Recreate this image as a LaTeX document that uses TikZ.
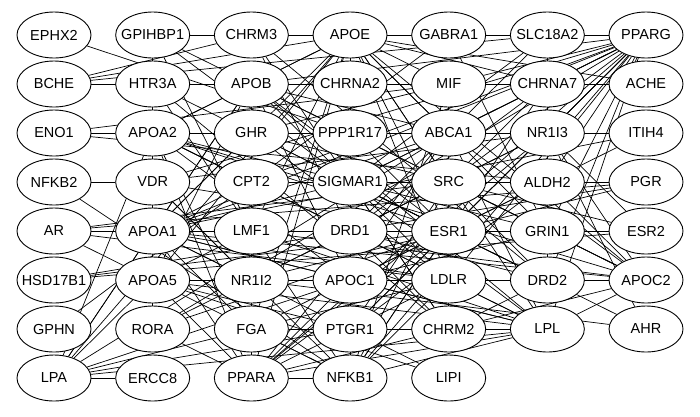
\documentclass[tikz,border=0pt]{standalone}
\usepackage{fontspec}
\setmainfont{Liberation Sans}
\usetikzlibrary{shapes.geometric,backgrounds}
\newcommand\gl[1]{\makebox[0pt]{#1}}
\begin{document}
\begin{tikzpicture}[x=1pt,y=-1pt,
  gn/.style={draw=black,fill=white,ellipse,minimum width=74pt,minimum height=46pt,
    inner sep=0pt,line width=0.9pt,font=\fontsize{14.5}{17}\selectfont},
  ed/.style={draw=black,line width=0.7pt}]
\useasboundingbox (0,0) rectangle (700,416);
\foreach \n/\c/\r in {
  EPHX2/0/0, GPIHBP1/1/0, CHRM3/2/0, APOE/3/0, GABRA1/4/0, SLC18A2/5/0, PPARG/6/0,
  BCHE/0/1, HTR3A/1/1, APOB/2/1, CHRNA2/3/1, MIF/4/1, CHRNA7/5/1, ACHE/6/1,
  ENO1/0/2, APOA2/1/2, GHR/2/2, PPP1R17/3/2, ABCA1/4/2, NR1I3/5/2, ITIH4/6/2,
  NFKB2/0/3, VDR/1/3, CPT2/2/3, SIGMAR1/3/3, SRC/4/3, ALDH2/5/3, PGR/6/3,
  AR/0/4, APOA1/1/4, LMF1/2/4, DRD1/3/4, ESR1/4/4, GRIN1/5/4, ESR2/6/4,
  HSD17B1/0/5, APOA5/1/5, NR1I2/2/5, APOC1/3/5, LDLR/4/5, DRD2/5/5, APOC2/6/5,
  GPHN/0/6, RORA/1/6, FGA/2/6, PTGR1/3/6, CHRM2/4/6, LPL/5/6, AHR/6/6,
  LPA/0/7, ERCC8/1/7, PPARA/2/7, NFKB1/3/7, LIPI/4/7}
  \node[gn] (\n) at ({54+98.67*\c},{35+49*\r}) {\gl{\n}};
\begin{scope}[on background layer]
\fill[white] (0,0) rectangle (700,416);
\foreach \a/\b in {
  EPHX2/PPP1R17,
  GPIHBP1/APOE, GPIHBP1/CHRM3, GPIHBP1/LPL, GPIHBP1/LMF1, GPIHBP1/APOC2, GPIHBP1/APOA5,
  BCHE/ACHE, BCHE/CHRM3, BCHE/APOE, BCHE/SLC18A2,
  ENO1/APOA2, ENO1/MIF, ENO1/ALDH2,
  NFKB2/VDR, NFKB2/NFKB1,
  AR/SRC, AR/ESR1, AR/LDLR, AR/NFKB1, AR/PGR,
  HSD17B1/ESR1, HSD17B1/PGR, HSD17B1/ESR2,
  GPHN/GABRA1,
  LPA/APOA2, LPA/APOA5, LPA/APOA1, LPA/APOB, LPA/APOE, LPA/ABCA1, LPA/APOC1, LPA/LPL,
  LPA/PTGR1, LPA/LDLR, LPA/ERCC8,
  RORA/APOA5, RORA/ESR1, RORA/PPARG, RORA/NR1I3,
  LIPI/APOA1, LIPI/APOA5,
  AHR/ESR1, AHR/NR1I2, AHR/NR1I3,
  ESR2/ESR1, ESR2/SRC, ESR2/NR1I3,
  PGR/SRC, PGR/ESR1,
  ITIH4/NR1I3, ITIH4/APOA2, ITIH4/FGA, ITIH4/APOA1,
  ACHE/CHRNA7, ACHE/APOE,
  SLC18A2/GABRA1, SLC18A2/DRD1, SLC18A2/DRD2, SLC18A2/SIGMAR1, SLC18A2/PPARG,
  GABRA1/GRIN1,
  CHRM3/APOE, CHRM3/CHRM2, CHRM3/DRD1, CHRM3/DRD2,
  HTR3A/CHRNA7, HTR3A/DRD2, HTR3A/NFKB1, HTR3A/CHRM2,
  APOE/APOB, APOE/APOA1, APOE/APOA2, APOE/APOA5, APOE/APOC1, APOE/APOC2, APOE/LPL,
  APOE/LDLR, APOE/ABCA1, APOE/PPARG, APOE/ESR1, APOE/SIGMAR1, APOE/CHRNA7, APOE/GRIN1,
  APOE/FGA, APOE/PPARA, APOE/LMF1, APOE/SRC, APOE/MIF,
  APOB/APOA1, APOB/APOA2, APOB/APOA5, APOB/APOC1, APOB/APOC2, APOB/LPL, APOB/LDLR,
  APOB/ABCA1, APOB/PPARA, APOB/PPARG, APOB/FGA, APOB/LMF1, APOB/CPT2, APOB/NR1I2,
  APOB/ESR1, APOB/MIF,
  APOA1/APOA2, APOA1/APOA5, APOA1/APOC1, APOA1/APOC2, APOA1/LPL, APOA1/LDLR, APOA1/ABCA1,
  APOA1/PPARA, APOA1/PPARG, APOA1/FGA, APOA1/LMF1, APOA1/ESR1, APOA1/CPT2, APOA1/GHR,
  APOA1/NR1I2, APOA1/SIGMAR1,
  APOA2/APOA5, APOA2/APOC1, APOA2/APOC2, APOA2/LPL, APOA2/ABCA1, APOA2/LDLR, APOA2/PPARA,
  APOA2/FGA, APOA2/CPT2, APOA2/SIGMAR1, APOA2/ESR1,
  APOA5/APOC1, APOA5/APOC2, APOA5/LPL, APOA5/LMF1, APOA5/LDLR, APOA5/PPARA, APOA5/PTGR1,
  APOC1/LPL, APOC1/ABCA1, APOC1/PPARA, APOC1/ESR1, APOC1/GRIN1,
  APOC2/LPL, APOC2/ABCA1, APOC2/PPARA, APOC2/LMF1, APOC2/GRIN1, APOC2/ALDH2, APOC2/NR1I3,
  LPL/LDLR, LPL/ABCA1, LPL/PPARG, LPL/PPARA, LPL/LMF1, LPL/FGA, LPL/NFKB1,
  LDLR/ABCA1, LDLR/PPARA, LDLR/ESR1, LDLR/PPARG, LDLR/SRC, LDLR/NFKB1, LDLR/GHR,
  ABCA1/PPARG, ABCA1/PPARA, ABCA1/NR1I3, ABCA1/ESR1, ABCA1/MIF,
  PPARA/PPARG, PPARA/NFKB1, PPARA/CPT2, PPARA/NR1I2, PPARA/NR1I3, PPARA/ESR1, PPARA/RORA,
  PPARG/NFKB1, PPARG/ESR1, PPARG/SRC, PPARG/NR1I3, PPARG/MIF, PPARG/ALDH2, PPARG/SIGMAR1,
  PPARG/VDR, PPARG/CPT2, PPARG/PTGR1, PPARG/CHRNA7, PPARG/GRIN1, PPARG/DRD2,
  NR1I2/NR1I3, NR1I2/ESR1, NR1I2/VDR, NR1I3/ESR1, NR1I3/VDR,
  ESR1/SRC, ESR1/VDR, ESR1/NFKB1, ESR1/GRIN1, ESR1/SIGMAR1, ESR1/MIF, ESR1/GHR, ESR1/CHRM2,
  ESR1/PPP1R17, ESR1/ALDH2,
  SRC/GRIN1, SRC/NFKB1, SRC/SIGMAR1, SRC/CHRNA7, SRC/GHR, SRC/MIF, SRC/CHRM2, SRC/DRD1,
  SRC/DRD2, SRC/ALDH2, SRC/PTGR1,
  VDR/NFKB1,
  SIGMAR1/DRD1, SIGMAR1/DRD2, SIGMAR1/GRIN1, SIGMAR1/CHRNA7, SIGMAR1/CPT2, SIGMAR1/PPP1R17,
  SIGMAR1/NFKB1, SIGMAR1/CHRM2,
  DRD1/DRD2, DRD1/GRIN1, DRD1/CHRM2, DRD1/LMF1, DRD1/CHRNA7, DRD1/PPP1R17,
  DRD2/GRIN1, DRD2/CHRM2, DRD2/ALDH2, DRD2/NR1I3,
  GRIN1/CHRNA7, GRIN1/ALDH2,
  CHRNA7/CHRNA2, CHRNA7/MIF, CHRNA7/NFKB1,
  MIF/NFKB1, MIF/GHR,
  ALDH2/CPT2, ALDH2/PTGR1,
  FGA/NFKB1, PTGR1/ESR1}
  \draw[ed] (\a) -- (\b);
\end{scope}
\end{tikzpicture}
\end{document}
